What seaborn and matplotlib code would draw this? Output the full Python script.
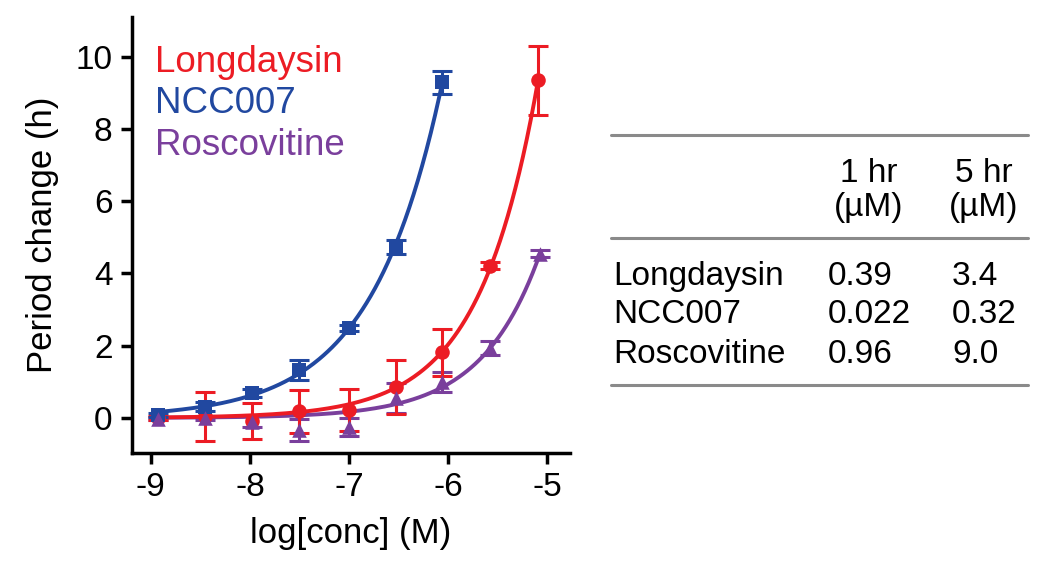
"""Period change dose-response curves + EC table."""

import matplotlib.pyplot as plt
import numpy as np
import pandas as pd
import seaborn as sns

# --- data ---------------------------------------------------------------
ncc_x = [-8.93, -8.45, -7.98, -7.50, -7.00, -6.53, -6.06]
ncc_y = [0.08, 0.31, 0.69, 1.33, 2.48, 4.73, 9.29]
ncc_err = [0.05, 0.12, 0.12, 0.28, 0.08, 0.20, 0.32]

ldn_x = [-8.93, -8.45, -7.98, -7.50, -7.00, -6.53, -6.06, -5.58, -5.09]
ldn_y = [0.00, 0.05, -0.08, 0.18, 0.22, 0.85, 1.82, 4.21, 9.35]
ldn_err = [0.05, 0.68, 0.50, 0.60, 0.58, 0.75, 0.65, 0.10, 0.95]

ros_x = [-8.93, -8.45, -7.98, -7.50, -7.00, -6.53, -6.06, -5.58, -5.07]
ros_y = [-0.02, 0.00, -0.10, -0.33, -0.24, 0.55, 1.00, 1.93, 4.55]
ros_err = [0.05, 0.05, 0.15, 0.30, 0.25, 0.42, 0.28, 0.20, 0.10]

compounds = ["Longdaysin", "NCC007", "Roscovitine"]
ec_1hr = ["0.39", "0.022", "0.96"]
ec_5hr = ["3.4", "0.32", "9.0"]

x_ticks = [-9, -8, -7, -6, -5]
y_ticks = [0, 2, 4, 6, 8, 10]

_COLORS = {"Longdaysin": "#ec1c24", "NCC007": "#2148a0", "Roscovitine": "#7a3f9c"}
_MARKERS = {"Longdaysin": "o", "NCC007": "s", "Roscovitine": "^"}

sns.set_theme(style="ticks")
plt.rcParams["font.family"] = ["Liberation Sans", "DejaVu Sans"]
plt.rcParams["text.color"] = "black"
plt.rcParams["axes.labelcolor"] = "black"
plt.rcParams["xtick.color"] = "black"
plt.rcParams["ytick.color"] = "black"
plt.rcParams["axes.edgecolor"] = "black"


def _fit_curve(x, y):
    """Least-squares fit of y = c*exp(b*(x+9)) (grid over b)."""
    x = np.asarray(x)
    y = np.asarray(y)
    best = None
    for b in np.linspace(0.3, 6.0, 571):
        e = np.exp(b * (x + 9))
        c = np.dot(e, y) / np.dot(e, e)
        res = np.sum((c * e - y) ** 2)
        if best is None or res < best[0]:
            best = (res, b, c)
    _, b, c = best
    xs = np.linspace(x.min(), x.max(), 200)
    return xs, c * np.exp(b * (xs + 9))


series = {
    "Longdaysin": (ldn_x, ldn_y, ldn_err),
    "NCC007": (ncc_x, ncc_y, ncc_err),
    "Roscovitine": (ros_x, ros_y, ros_err),
}

fig = plt.figure(figsize=(10.5, 5.79), dpi=100)
ax = fig.add_axes([132 / 1050, 1 - 453 / 579, 438 / 1050, 436 / 579])

# curves and error bars first, markers on top (purple last like the original)
for name in ["Roscovitine", "Longdaysin", "NCC007"]:
    x, y, err = series[name]
    color = _COLORS[name]
    xs, ys = _fit_curve(x, y)
    sns.lineplot(x=xs, y=ys, color=color, lw=2.8, ax=ax)
    ax.errorbar(x, y, yerr=err, fmt="none", ecolor=color, elinewidth=2.2,
                capsize=7, capthick=2.2)
for name in ["Longdaysin", "NCC007", "Roscovitine"]:
    x, y, _ = series[name]
    color = _COLORS[name]
    df = pd.DataFrame({"x": x, "y": y})
    sns.scatterplot(data=df, x="x", y="y", color=color, marker=_MARKERS[name],
                    s=110, edgecolor=color, linewidth=0, ax=ax, zorder=3)

ax.set_xlim(-9.19, -4.77)
ax.set_ylim(-0.97, 11.1)
ax.set_xticks(x_ticks)
ax.set_xticklabels([f"{t}" for t in x_ticks])
ax.set_yticks(y_ticks)
ax.set_xlabel("log[conc] (M)", fontsize=25, labelpad=10)
ax.set_ylabel("Period change (h)", fontsize=25, labelpad=12)
ax.tick_params(labelsize=24, width=2.5, length=8, pad=6)
for side in ["left", "bottom"]:
    ax.spines[side].set_linewidth(2.5)
sns.despine(ax=ax)

for i, name in enumerate(compounds):
    ax.text(0.053, [0.874, 0.780, 0.683][i], name, transform=ax.transAxes,
            color=_COLORS[name], fontsize=26.5, va="baseline", ha="left")

# --- table on the right (pixel coordinates) -----------------------------
tx = fig.add_axes([0, 0, 1, 1])
tx.set_xlim(0, 1050)
tx.set_ylim(579, 0)
tx.axis("off")
for yy in [135, 238, 385]:
    tx.plot([611, 1028], [yy, yy], color="#8a8a8a", lw=2.2)
for cx, head in [(869, "1 hr"), (984, "5 hr")]:
    tx.text(cx, 182, head, ha="center", va="baseline", fontsize=24)
    tx.text(cx, 216, "(µM)", ha="center", va="baseline", fontsize=24)
for i, name in enumerate(compounds):
    yy = [285, 323, 363][i]
    tx.text(613, yy, name, ha="left", va="baseline", fontsize=24)
    tx.text(828, yy, ec_1hr[i], ha="left", va="baseline", fontsize=24)
    tx.text(952, yy, ec_5hr[i], ha="left", va="baseline", fontsize=24)

fig.savefig("out.png", dpi=100)
plt.close(fig)
